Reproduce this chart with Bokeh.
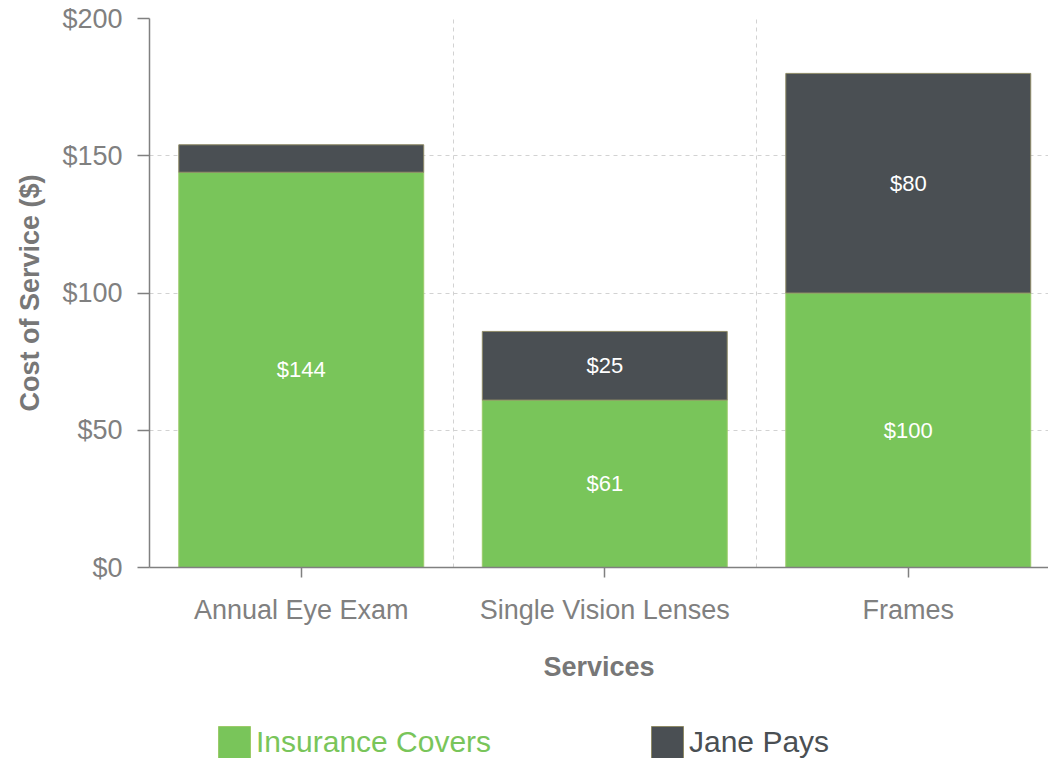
from bokeh.plotting import figure
from bokeh.layouts import column
from bokeh.models import (ColumnDataSource, FixedTicker, Legend, LegendItem,
                          LabelSet, Range1d)
from bokeh.core.properties import value
from bokeh.embed import file_html
from bokeh.resources import INLINE

categories = ["Annual Eye Exam", "Single Vision Lenses", "Frames"]
insurance = [144, 61, 100]
jane = [10, 25, 80]
y_ticks = [0, 50, 100, 150, 200]
series = ["Insurance Covers", "Jane Pays"]

GREEN = "#79C55A"
DARK = "#4A4F53"
GRAY = "#808080"
FONT = "Liberation Sans"

x = [i + 0.5 for i in range(len(categories))]
top2 = [a + b for a, b in zip(insurance, jane)]

src = ColumnDataSource(dict(
    x=x,
    ins=insurance,
    ins_mid=[v / 2 for v in insurance],
    ins_lab=["$%d" % v for v in insurance],
    b2=insurance,
    t2=top2,
    j_mid=[a + b / 2 for a, b in zip(insurance, jane)],
    j_lab=["$%d" % v if v >= 20 else "" for v in jane],
))

p = figure(width=1048, height=726, output_backend="svg", toolbar_location=None,
           x_range=Range1d(0, 2.962), y_range=Range1d(0, 200),
           min_border_left=149, min_border_right=0, min_border_top=18,
           min_border_bottom=159)
p.outline_line_color = None
p.background_fill_color = "white"

r1 = p.vbar(x="x", top="ins", bottom=0, width=0.807, source=src,
            fill_color=GREEN, line_color="#9CCB6A", line_width=1)
r2 = p.vbar(x="x", top="t2", bottom="b2", width=0.807, source=src,
            fill_color=DARK, line_color="#8E8A66", line_width=1)

for yf, tf in (("ins_mid", "ins_lab"), ("j_mid", "j_lab")):
    p.add_layout(LabelSet(x="x", y=yf, text=tf, source=src,
                          text_color="white", text_font=value(FONT),
                          text_font_size="22px",
                          text_align="center", text_baseline="middle"))

# axes
p.xaxis.ticker = FixedTicker(ticks=x)
p.xaxis.major_label_overrides = {v: c for v, c in zip(x, categories)}
p.xaxis.major_tick_out = 10
p.xaxis.major_tick_in = 0
p.xaxis.minor_tick_out = 0
p.xaxis.minor_tick_in = 0
p.xaxis.axis_label = "Services"
p.yaxis.axis_label = "Cost of Service ($)"
p.yaxis.ticker = FixedTicker(ticks=y_ticks)
p.yaxis.major_label_overrides = {v: "$%d" % v for v in y_ticks}
p.yaxis.major_tick_out = 12
p.yaxis.major_tick_in = 0
p.yaxis.minor_tick_out = 0
p.yaxis.minor_tick_in = 0
for ax in (p.xaxis, p.yaxis):
    ax.axis_line_color = GRAY
    ax.axis_line_width = 1.5
    ax.major_tick_line_color = GRAY
    ax.major_tick_line_width = 1.5
    ax.major_label_text_color = GRAY
    ax.major_label_text_font = FONT
    ax.major_label_text_font_size = "27px"
    ax.axis_label_text_color = "#777777"
    ax.axis_label_text_font = FONT
    ax.axis_label_text_font_style = "bold"
    ax.axis_label_text_font_size = "27px"
p.xaxis.major_label_standoff = 17
p.xaxis.axis_label_standoff = 24
p.yaxis.major_label_standoff = 15
p.yaxis.axis_label_standoff = 14

p.xgrid.ticker = FixedTicker(ticks=[1, 2])
p.xgrid.grid_line_color = "#d2d2d2"
p.xgrid.grid_line_dash = "4 4"
p.ygrid.grid_line_color = "#d2d2d2"
p.ygrid.grid_line_dash = "4 4"

# legend strip below the chart (its frame is aligned with the chart frame)
lg = figure(width=1048, height=32, output_backend="svg", toolbar_location=None,
            x_range=Range1d(0, 1), y_range=Range1d(0, 1),
            min_border_left=0, min_border_right=0, min_border_top=0,
            min_border_bottom=0)
lg.axis.visible = False
lg.grid.visible = False
lg.outline_line_color = None
lr1 = lg.vbar(x=[50], top=[0], bottom=[0], width=0.1,
              fill_color=GREEN, line_color="#9CCB6A")
lr2 = lg.vbar(x=[50], top=[0], bottom=[0], width=0.1,
              fill_color=DARK, line_color="#8E8A66")

common = dict(label_text_font=FONT, label_text_font_size="30px",
              glyph_width=40, glyph_height=40, label_standoff=2,
              padding=0, margin=0, label_height=40,
              border_line_color=None, background_fill_alpha=0)
leg1 = Legend(items=[LegendItem(label=series[0], renderers=[lr1])],
              location=(65, -4), label_text_color=GREEN, **common)
leg2 = Legend(items=[LegendItem(label=series[1], renderers=[lr2])],
              location=(498, -4), label_text_color=DARK, **common)
lg.add_layout(leg1, "center")
lg.add_layout(leg2, "center")

layout = column(p, lg, spacing=0)
open("out.html", "w").write(file_html(layout, INLINE))
